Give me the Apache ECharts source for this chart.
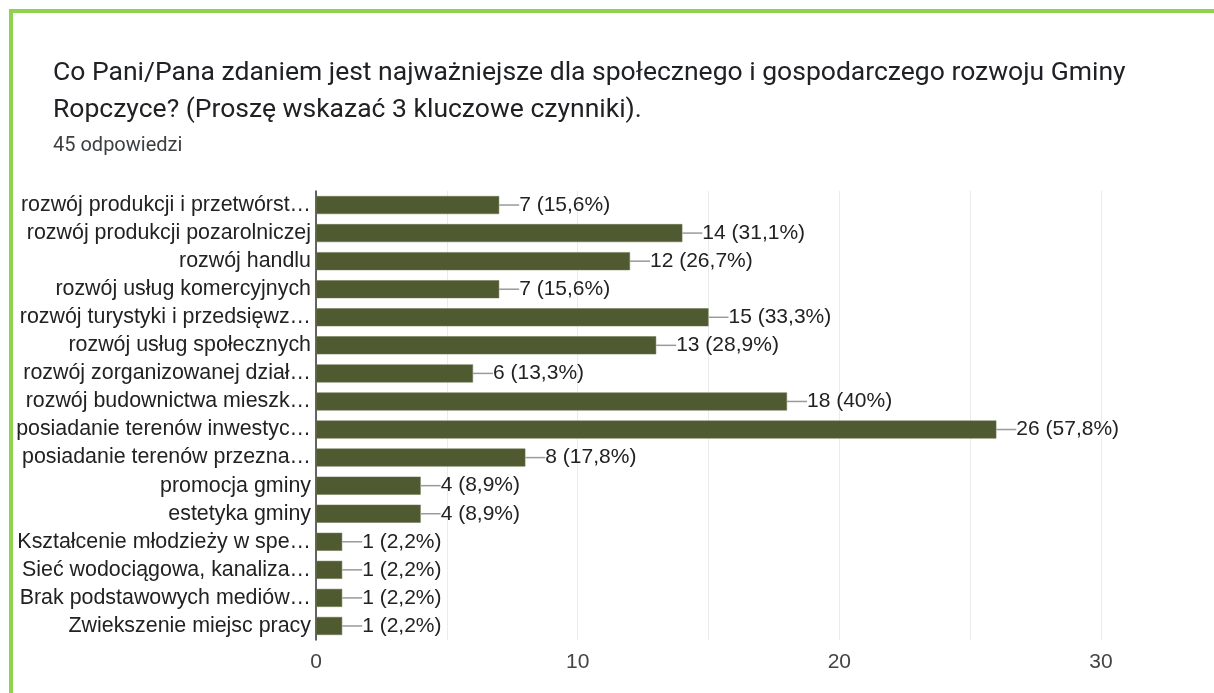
<!DOCTYPE html>
<html><head><meta charset="utf-8">
<script src="https://cdn.jsdelivr.net/npm/echarts@6/dist/echarts.min.js"></script>
<style>html,body{margin:0;padding:0;background:#fff;}#c{width:1214px;height:693px;}</style>
</head><body><div id="c"></div>
<script>
const categories = [
  'rozwój produkcji i przetwórst…',
  'rozwój produkcji pozarolniczej',
  'rozwój handlu',
  'rozwój usług komercyjnych',
  'rozwój turystyki i przedsięwz…',
  'rozwój usług społecznych',
  'rozwój zorganizowanej dział…',
  'rozwój budownictwa mieszk…',
  'posiadanie terenów inwestyc…',
  'posiadanie terenów przezna…',
  'promocja gminy',
  'estetyka gminy',
  'Kształcenie młodzieży w spe…',
  'Sieć wodociągowa, kanaliza…',
  'Brak podstawowych mediów…',
  'Zwiekszenie miejsc pracy'
];
const counts = [7, 14, 12, 7, 15, 13, 6, 18, 26, 8, 4, 4, 1, 1, 1, 1];
const percents = ['15,6%', '31,1%', '26,7%', '15,6%', '33,3%', '28,9%', '13,3%', '40%', '57,8%', '17,8%', '8,9%', '8,9%', '2,2%', '2,2%', '2,2%', '2,2%'];
const titleLines = ['Co Pani/Pana zdaniem jest najważniejsze dla społecznego i gospodarczego rozwoju Gminy', 'Ropczyce? (Proszę wskazać 3 kluczowe czynniki).'];
const subtitle = '45 odpowiedzi';

const chart = echarts.init(document.getElementById('c'), null, {renderer: 'canvas'});
chart.setOption({
  animation: false,
  backgroundColor: '#ffffff',
  title: {
    text: titleLines.join('\n'),
    subtext: subtitle,
    left: 48, top: 50,
    itemGap: 5,
    textStyle: {fontFamily: 'Roboto', fontSize: 26.5, fontWeight: 'normal', color: '#202124', lineHeight: 37},
    subtextStyle: {fontFamily: 'Roboto', fontSize: 20, color: '#3c4043', lineHeight: 24}
  },
  graphic: [
    {type: 'rect', shape: {x: 9, y: 9, width: 1205, height: 4}, style: {fill: '#8fd150'}},
    {type: 'rect', shape: {x: 9, y: 9, width: 4, height: 684}, style: {fill: '#8fd150'}}
  ],
  grid: {left: 316, right: 113, top: 191, bottom: 53, containLabel: false},
  xAxis: {
    type: 'value', min: 0, max: 30, interval: 5,
    axisLine: {show: false}, axisTick: {show: false},
    splitLine: {show: true, lineStyle: {color: '#ebebeb', width: 1}},
    axisLabel: {
      margin: 12, fontFamily: 'Liberation Sans', fontSize: 21, color: '#444',
      formatter: v => (v % 10 === 0 ? String(v) : '')
    }
  },
  yAxis: {
    type: 'category', data: categories, inverse: true,
    axisLine: {show: true, lineStyle: {color: '#333', width: 1.5}},
    axisTick: {show: false},
    axisLabel: {margin: 5, fontFamily: 'Liberation Sans', fontSize: 21.4, color: '#222'}
  },
  series: [{
    type: 'bar',
    data: counts,
    barWidth: 18,
    itemStyle: {color: '#4f5a30', borderColor: '#6b7550', borderWidth: 0.5},
    label: {
      show: true, position: 'right', distance: 0,
      formatter: p => '{ln|}{t|' + p.value + ' (' + percents[p.dataIndex] + ')}',
      rich: {
        ln: {width: 20, height: 1.5, backgroundColor: '#9a9a9a'},
        t: {fontFamily: 'Liberation Sans', fontSize: 21, color: '#222'}
      }
    }
  }]
});
</script></body></html>
